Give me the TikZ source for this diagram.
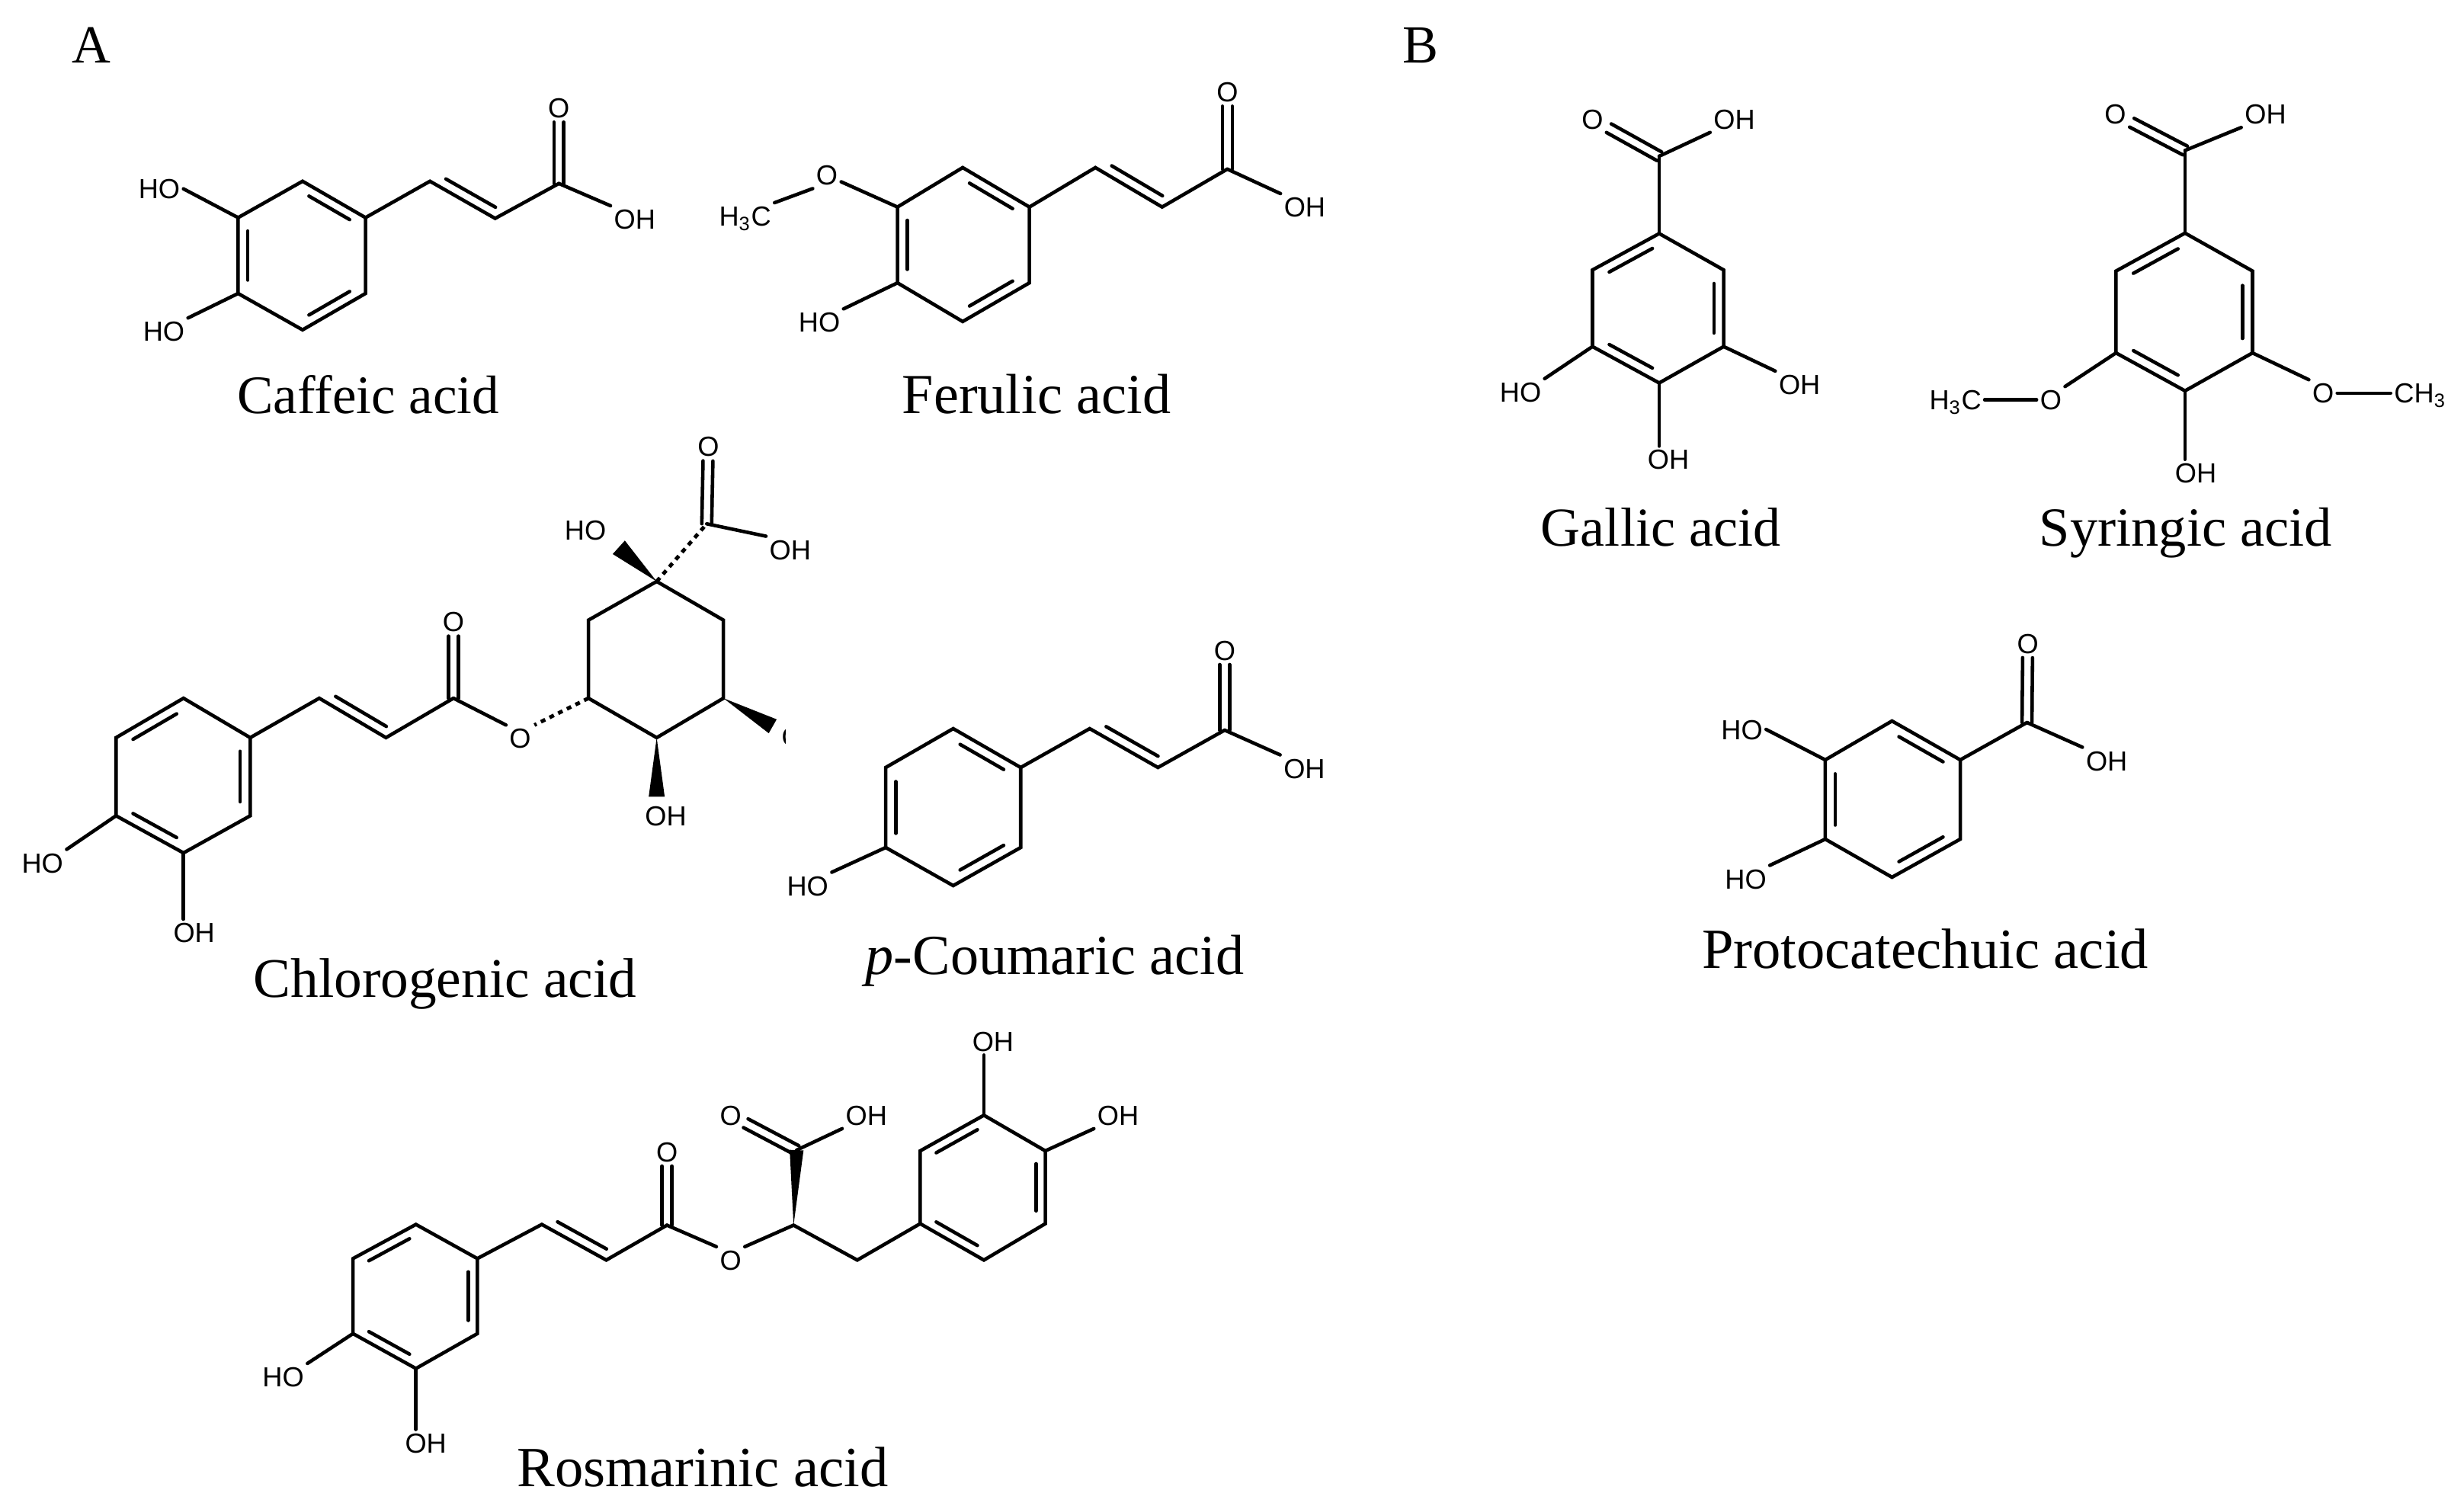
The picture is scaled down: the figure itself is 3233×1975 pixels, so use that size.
\documentclass[tikz,border=0pt]{standalone}
\usepackage{fontspec}
\setmainfont{Liberation Serif}
\newfontfamily\atomfont{Liberation Sans}
\usetikzlibrary{calc}
\tikzset{
  bond/.style={line width=1.3pt,line join=miter,line cap=round,black},
  atom/.style={font=\atomfont\fontsize{10.3}{12}\selectfont,inner sep=1.3pt,outer sep=0pt,text height=7.4pt,text depth=0pt},
  caption/.style={font=\fontsize{#1}{24}\selectfont,anchor=base,inner sep=0pt},
  panel/.style={font=\fontsize{20}{24}\selectfont,anchor=base,inner sep=0pt},
  hashbond/.style={line width=1.4pt,dash pattern=on 1.8pt off 1.8pt,black}
}
\newcommand\hexring[7]{%
  \coordinate (#1a) at (#2); \coordinate (#1b) at (#3); \coordinate (#1c) at (#4);
  \coordinate (#1d) at (#5); \coordinate (#1e) at (#6); \coordinate (#1f) at (#7);
  \coordinate (#1o) at ($(#1a)!.5!(#1d)$);
  \draw[bond] (#1a)--(#1b)--(#1c)--(#1d)--(#1e)--(#1f)--cycle;}
% inner line of a ring double bond: #1 ring prefix, #2 #3 vertex letters
\newcommand\inb[3]{\draw[bond] ($($(#1#2)!.15!(#1o)$)!.12!($(#1#3)!.15!(#1o)$)$) -- ($($(#1#3)!.15!(#1o)$)!.12!($(#1#2)!.15!(#1o)$)$);}
% second line of a chain C=C
\newcommand\trn[2]{\draw[bond] ($(#1)!.17!(#2)!3.7pt!90:(#2)$) -- ($(#1)!.93!(#2)!3.7pt!90:(#2)$);}
% C=O from carbon to oxygen label, stopping #3 short of the label centre
\newcommand\cdo[3][5.4pt]{%
  \draw[bond,shorten >=#1] ($(#2)!1.85pt!90:(#3)$) -- ($(#3)!1.85pt!-90:(#2)$);
  \draw[bond,shorten >=#1] ($(#2)!1.85pt!-90:(#3)$) -- ($(#3)!1.85pt!90:(#2)$);}
\newcommand\wdg[3]{\fill[black] (#1) -- ($(#2)!#3!90:(#1)$) -- ($(#2)!#3!-90:(#1)$) -- cycle;}
\begin{document}
\begin{tikzpicture}[x=0.01cm,y=-0.01cm]
\useasboundingbox (0,0) rectangle (3233,1975);
\node[panel] (panelA) at (120,82) {A};
\node[panel] (panelB) at (1864,82) {B};

% ---------- Caffeic acid
\begin{scope}[scale=.995]
\hexring{caf}{399,239}{482,287}{482,387}{399,435}{314,387}{314,287}
\inb{caf}{a}{b}\inb{caf}{c}{d}\inb{caf}{e}{f}
\coordinate (caf1) at (567,239); \coordinate (caf2) at (653,288); \coordinate (caf3) at (737,242);
\draw[bond] (cafb)--(caf1)--(caf2)--(caf3);
\trn{caf1}{caf2}
\node[atom] (cafO) at (737,142) {O};
\node[atom] (cafH) at (837,289) {OH};
\node[atom] (cafT) at (210,249) {HO};
\node[atom] (cafU) at (216,437) {HO};
\cdo{caf3}{cafO}
\draw[bond] (caf3)--(cafH.north west);
\draw[bond] (caff)--(cafT.east);
\draw[bond] (cafe)--(cafU.north east);
\end{scope}
\node[caption=20.2] (capCaf) at (483,542) {Caffeic acid};

% ---------- Ferulic acid
\begin{scope}[shift={(4.5,0)},scale=.995]
\hexring{fer}{1265,221}{1353,273}{1353,373}{1265,424}{1179,373}{1179,273}
\inb{fer}{a}{b}\inb{fer}{c}{d}\inb{fer}{e}{f}
\coordinate (fer1) at (1440,221); \coordinate (fer2) at (1528,273); \coordinate (fer3) at (1614,223);
\draw[bond] (ferb)--(fer1)--(fer2)--(fer3);
\trn{fer1}{fer2}
\node[atom] (ferO) at (1614,121) {O};
\node[atom] (ferH) at (1716,273) {OH};
\node[atom] (ferM) at (1086,231) {O};
\node[atom] (ferC) at (978,285) {H\textsubscript{3}C};
\node[atom] (ferT) at (1076,425) {HO};
\cdo{fer3}{ferO}
\draw[bond] (fer3)--(ferH.north west);
\draw[bond] (ferf)--(ferM.-25);
\draw[bond] (ferM.south west)--(ferC.north east);
\draw[bond] (fere)--(ferT.north east);
\end{scope}
\node[caption=21.1] (capFer) at (1360,542) {Ferulic acid};

% ---------- Chlorogenic acid
\begin{scope}[shift={(0,2.75)},scale=.995]
\hexring{chl}{242,918}{330,970}{330,1073}{242,1122}{153,1073}{153,970}
\inb{chl}{a}{f}\inb{chl}{b}{c}\inb{chl}{d}{e}
\coordinate (chl1) at (421,918); \coordinate (chl2) at (509,970); \coordinate (chl3) at (598,918);
\draw[bond] (chlb)--(chl1)--(chl2)--(chl3);
\trn{chl1}{chl2}
\node[atom] (chlO) at (598,817) {O};
\node[atom] (chlE) at (686,971) {O};
\node[atom] (chlT) at (56,1135) {HO};
\node[atom] (chlU) at (256,1227) {OH};
\cdo{chl3}{chlO}
\draw[bond] (chl3)--(chlE.north west);
\draw[bond] (chle)--(chlT.north east);
\draw[bond] (chld)--(chlU.north -| chld);
\hexring{qui}{866,764}{954,815}{954,918}{866,970}{776,918}{776,815}
\draw[hashbond] (quie)--(chlE.north east);
\coordinate (qui1) at (932,688);
\coordinate (qwa) at (816,719);
\coordinate (qwb) at (866,1048);
\coordinate (qwc) at (1019,955);
\node[atom] (quiO) at (934,586) {O};
\node[atom] (quiH) at (1042,722) {OH};
\node[atom] (quiT) at (772,696) {HO};
\node[atom] (quiB) at (878,1073) {OH};
\draw[hashbond] (quia)--(qui1);
\cdo{qui1}{quiO}
\draw[bond] (qui1)--(quiH.north west);
\wdg{quia}{qwa}{3.4pt}
\wdg{quid}{qwb}{3pt}
\wdg{quic}{qwc}{3pt}
\begin{scope}
  \clip (1022,940) rectangle (1036,1000);
  \node[atom] (quiC) at (1045,969) {O};
\end{scope}
\end{scope}
\node[caption=20.85] (capChl) at (584,1308) {Chlorogenic acid};

% ---------- p-Coumaric acid
\begin{scope}[shift={(5,0)},xscale=.995]
\hexring{cou}{1252,956}{1341,1007}{1341,1112}{1252,1162}{1163,1112}{1163,1007}
\inb{cou}{a}{b}\inb{cou}{c}{d}\inb{cou}{e}{f}
\coordinate (cou1) at (1432,956); \coordinate (cou2) at (1522,1007); \coordinate (cou3) at (1610,958);
\draw[bond] (coub)--(cou1)--(cou2)--(cou3);
\trn{cou1}{cou2}
\node[atom] (couO) at (1610,853) {O};
\node[atom] (couH) at (1715,1008) {OH};
\node[atom] (couT) at (1060,1162) {HO};
\cdo{cou3}{couO}
\draw[bond] (cou3)--(couH.north west);
\draw[bond] (coue)--(couT.north east);
\end{scope}
\node[caption=21.1] (capCou) at (1384,1278) {\textit{p}-Coumaric acid};

% ---------- Rosmarinic acid
\begin{scope}[shift={(1.5,6.65)},scale=.995]
\hexring{rxa}{547,1608}{628,1653}{628,1752}{547,1798}{464,1752}{464,1653}
\inb{rxa}{a}{f}\inb{rxa}{b}{c}\inb{rxa}{d}{e}
\coordinate (rx1) at (713,1608); \coordinate (rx2) at (798,1655); \coordinate (rx3) at (878,1609);
\coordinate (rx4) at (1045,1609); \coordinate (rx5) at (1129,1655); \coordinate (rx6) at (1049,1510);
\draw[bond] (rxab)--(rx1)--(rx2)--(rx3);
\trn{rx1}{rx2}
\node[atom] (rxO) at (878,1512) {O};
\node[atom] (rxE) at (962,1655) {O};
\node[atom] (rxP) at (962,1464) {O};
\node[atom] (rxQ) at (1141,1464) {OH};
\node[atom] (rxT) at (372,1809) {HO};
\node[atom] (rxU) at (560,1896) {OH};
\cdo{rx3}{rxO}
\draw[bond] (rx3)--(rxE.north west);
\draw[bond] (rxE.north east)--(rx4)--(rx5);
\wdg{rx4}{rx6}{2.6pt}
\cdo[6.4pt]{rx6}{rxP}
\draw[bond] (rx6)--(rxQ.south west);
\draw[bond] (rxae)--(rxT.north east);
\draw[bond] (rxad)--(rxU.north -| rxad);
\hexring{rxb}{1296,1464}{1377,1511}{1377,1607}{1296,1655}{1212,1607}{1212,1511}
\inb{rxb}{a}{f}\inb{rxb}{b}{c}\inb{rxb}{d}{e}
\draw[bond] (rx5)--(rxbe);
\node[atom] (rxV) at (1308,1367) {OH};
\node[atom] (rxW) at (1473,1464) {OH};
\draw[bond] (rxba)--(rxV.south -| rxba);
\draw[bond] (rxbb)--(rxW.south west);
\end{scope}
\node[caption=21.2] (capRos) at (922,1950) {Rosmarinic acid};

% ---------- Gallic acid
\begin{scope}[shift={(9,0)},scale=.995]
\hexring{gal}{2179,308}{2264,356}{2264,457}{2179,505}{2091,457}{2091,356}
\inb{gal}{a}{f}\inb{gal}{b}{c}\inb{gal}{d}{e}
\coordinate (gal1) at (2179,206);
\node[atom] (galO) at (2091,157) {O};
\node[atom] (galH) at (2278,157) {OH};
\node[atom] (galT) at (1996,517) {HO};
\node[atom] (galU) at (2364,507) {OH};
\node[atom] (galV) at (2191,606) {OH};
\draw[bond] (gala)--(gal1);
\cdo[7pt]{gal1}{galO}
\draw[bond] (gal1)--(galH.south west);
\draw[bond] (gale)--(galT.north east);
\draw[bond] (galc)--(galU.north west);
\draw[bond] (gald)--(galV.north -| gald);
\end{scope}
\node[caption=20.5] (capGal) at (2179,716) {Gallic acid};

% ---------- Syringic acid
\begin{scope}[shift={(12.4,.4)},scale=.995]
\hexring{syr}{2869,307}{2958,357}{2958,465}{2869,515}{2778,465}{2778,357}
\inb{syr}{a}{f}\inb{syr}{b}{c}\inb{syr}{d}{e}
\coordinate (syr1) at (2869,198);
\node[atom] (syrO) at (2777,150) {O};
\node[atom] (syrH) at (2975,150) {OH};
\node[atom] (syrL) at (2692,527) {O};
\node[atom] (syrM) at (2566,527) {H\textsubscript{3}C};
\node[atom] (syrR) at (3051,518) {O};
\node[atom] (syrS) at (3179,518) {CH\textsubscript{3}};
\node[atom] (syrV) at (2883,623) {OH};
\draw[bond] (syra)--(syr1);
\cdo[7pt]{syr1}{syrO}
\draw[bond] (syr1)--(syrH.south west);
\draw[bond] (syre)--(syrL.north east);
\draw[bond] (syrL.west)--(syrM.east);
\draw[bond] (syrc)--(syrR.north west);
\draw[bond] (syrR.east)--(syrS.west);
\draw[bond] (syrd)--(syrV.north -| syrd);
\end{scope}
\node[caption=20.6] (capSyr) at (2868,716) {Syringic acid};

% ---------- Protocatechuic acid
\begin{scope}[shift={(11,0)},xscale=.995]
\hexring{pro}{2484,946}{2574,997}{2574,1101}{2484,1151}{2396,1101}{2396,997}
\inb{pro}{a}{b}\inb{pro}{c}{d}\inb{pro}{e}{f}
\coordinate (pro1) at (2662,948);
\node[atom] (proO) at (2663,844) {O};
\node[atom] (proH) at (2767,998) {OH};
\node[atom] (proT) at (2286,957) {HO};
\node[atom] (proU) at (2291,1153) {HO};
\draw[bond] (prob)--(pro1);
\cdo{pro1}{proO}
\draw[bond] (pro1)--(proH.north west);
\draw[bond] (prof)--(proT.east);
\draw[bond] (proe)--(proU.north east);
\end{scope}
\node[caption=21.2] (capPro) at (2526,1270) {Protocatechuic acid};
\end{tikzpicture}
\end{document}
